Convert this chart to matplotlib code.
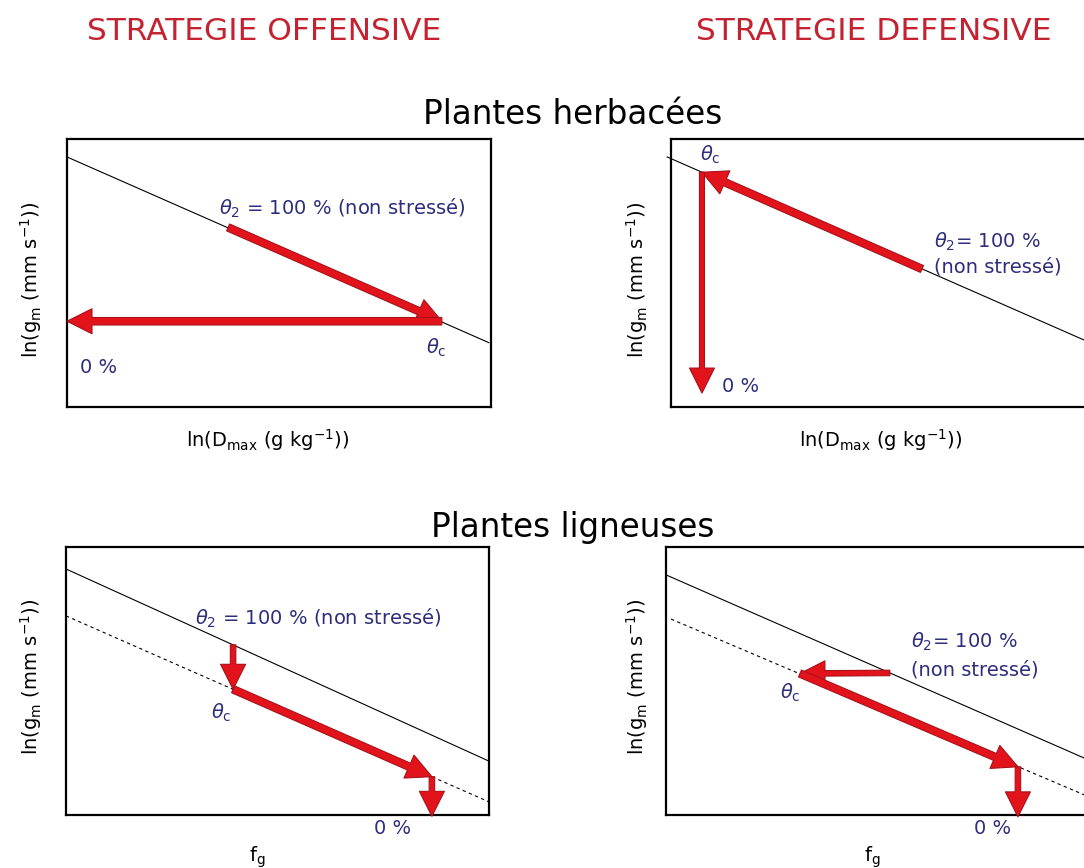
import matplotlib.pyplot as plt
from matplotlib.patches import FancyArrowPatch

plt.rcParams['font.family'] = ['DejaVu Sans']
plt.rcParams['mathtext.fontset'] = 'dejavusans'
plt.rcParams['mathtext.default'] = 'regular'

W, H = 1084, 868
RED = '#e2131b'
EDGE = '#a8121a'
BLUE = '#2d2d7c'
HEAD = '#c42230'

# --- donnees du schema (unites arbitraires 0-10) ---
herb_off_line_x = [0.0, 9.95]
herb_off_line_y = [9.33, 2.40]
herb_off_path_x = [3.80, 8.84, 0.0]
herb_off_path_y = [6.70, 3.20, 3.20]

herb_def_line_x = [-0.09, 10.0]
herb_def_line_y = [9.33, 2.32]
herb_def_path_x = [5.92, 0.73, 0.73]
herb_def_path_y = [5.15, 8.76, 0.52]

lig_off_line_x = [0.0, 10.0]
lig_off_line_y = [9.18, 2.01]
lig_off_dash_x = [0.0, 10.0]
lig_off_dash_y = [7.43, 0.49]
lig_off_path_x = [3.95, 3.95, 8.65, 8.65]
lig_off_path_y = [6.35, 4.69, 1.43, -0.05]

lig_def_line_x = [0.0, 10.0]
lig_def_line_y = [8.96, 2.03]
lig_def_dash_x = [0.12, 10.0]
lig_def_dash_y = [7.31, 0.66]
lig_def_path_x = [5.28, 3.16, 8.30, 8.30]
lig_def_path_y = [5.30, 5.28, 1.80, -0.07]


def px(x, y):
    return x / W, 1 - y / H


def make_ax(left, top, width=424, height=268):
    ax = fig.add_axes([left / W, 1 - (top + height) / H, width / W, height / H])
    ax.set_xlim(0, 10)
    ax.set_ylim(0, 10)
    ax.set_xticks([])
    ax.set_yticks([])
    for s in ax.spines.values():
        s.set_linewidth(1.6)
    return ax


def arrow(ax, p0, p1, tail=0.26, head=1.0):
    a = FancyArrowPatch(p0, p1,
                        arrowstyle='simple,head_length=%g,head_width=%g,tail_width=%g' % (head, head, tail),
                        mutation_scale=18, facecolor=RED, edgecolor=EDGE, lw=0.8,
                        shrinkA=0, shrinkB=0, clip_on=False, zorder=5)
    ax.add_patch(a)


def path_arrows(ax, xs, ys, tails):
    for i in range(len(xs) - 1):
        arrow(ax, (xs[i], ys[i]), (xs[i + 1], ys[i + 1]), tail=tails[i])


fig = plt.figure(figsize=(W / 100, H / 100), dpi=100)

# titres
fig.text(*px(264, 32), 'STRATEGIE OFFENSIVE', color=HEAD, fontsize=22.5, ha='center', va='center')
fig.text(*px(874, 32), 'STRATEGIE DEFENSIVE', color=HEAD, fontsize=22.5, ha='center', va='center')
fig.text(*px(573, 114), 'Plantes herbacées', fontsize=23.5, ha='center', va='center')
fig.text(*px(573, 527), 'Plantes ligneuses', fontsize=23.5, ha='center', va='center')

ylab = r'ln(g$_m$ (mm s$^{-1}$))'
xlab_h = r'ln(D$_{max}$ (g kg$^{-1}$))'
xlab_l = r'f$_g$'
t2_one = r'$\mathit{\theta}_2$ = 100 % (non stressé)'
t2_a = r'$\mathit{\theta}_2$= 100 %'
tc = r'$\mathit{\theta}_c$'
FS = 14

# --- herbacees, offensive ---
ax = make_ax(67, 139)
ax.plot(herb_off_line_x, herb_off_line_y, color='black', lw=0.8, clip_on=False)
path_arrows(ax, herb_off_path_x, herb_off_path_y, [0.3, 0.3])
ax.text(3.58, 7.43, t2_one, color=BLUE, fontsize=FS, va='center')
ax.text(8.70, 2.20, tc, color=BLUE, fontsize=FS, ha='center', va='center')
ax.text(0.31, 1.49, '0 %', color=BLUE, fontsize=FS, va='center')
fig.text(*px(268, 440), xlab_h, fontsize=FS, ha='center', va='center')
fig.text(*px(31, 280), ylab, fontsize=FS, ha='center', va='center', rotation=90)

# --- herbacees, defensive ---
ax = make_ax(671, 139)
ax.plot(herb_def_line_x, herb_def_line_y, color='black', lw=0.8, clip_on=False)
path_arrows(ax, herb_def_path_x, herb_def_path_y, [0.3, 0.2])
ax.text(6.20, 6.16, t2_a, color=BLUE, fontsize=FS, va='center')
ax.text(6.20, 5.22, '(non stressé)', color=BLUE, fontsize=FS, va='center')
ax.text(0.92, 9.40, tc, color=BLUE, fontsize=FS, ha='center', va='center')
ax.text(1.65, 0.75, '0 %', color=BLUE, fontsize=FS, ha='center', va='center')
fig.text(*px(881, 440), xlab_h, fontsize=FS, ha='center', va='center')
fig.text(*px(637, 280), ylab, fontsize=FS, ha='center', va='center', rotation=90)

# --- ligneuses, offensive ---
ax = make_ax(66, 547, width=423)
ax.plot(lig_off_line_x, lig_off_line_y, color='black', lw=0.8, clip_on=False)
ax.plot(lig_off_dash_x, lig_off_dash_y, color='black', lw=0.8, ls=(0, (3, 3)), clip_on=False)
path_arrows(ax, lig_off_path_x, lig_off_path_y, [0.22, 0.3, 0.22])
ax.text(3.05, 7.35, t2_one, color=BLUE, fontsize=FS, va='center')
ax.text(3.66, 3.81, tc, color=BLUE, fontsize=FS, ha='center', va='center')
ax.text(7.71, -0.49, '0 %', color=BLUE, fontsize=FS, ha='center', va='center')
fig.text(*px(257, 857), xlab_l, fontsize=FS, ha='center', va='center')
fig.text(*px(31, 677), ylab, fontsize=FS, ha='center', va='center', rotation=90)

# --- ligneuses, defensive ---
ax = make_ax(666, 547)
ax.plot(lig_def_line_x, lig_def_line_y, color='black', lw=0.8, clip_on=False)
ax.plot(lig_def_dash_x, lig_def_dash_y, color='black', lw=0.8, ls=(0, (3, 3)), clip_on=False)
path_arrows(ax, lig_def_path_x, lig_def_path_y, [0.22, 0.3, 0.22])
ax.text(5.78, 6.46, t2_a, color=BLUE, fontsize=FS, va='center')
ax.text(5.78, 5.41, '(non stressé)', color=BLUE, fontsize=FS, va='center')
ax.text(2.92, 4.55, tc, color=BLUE, fontsize=FS, ha='center', va='center')
ax.text(7.71, -0.49, '0 %', color=BLUE, fontsize=FS, ha='center', va='center')
fig.text(*px(872, 857), xlab_l, fontsize=FS, ha='center', va='center')
fig.text(*px(637, 677), ylab, fontsize=FS, ha='center', va='center', rotation=90)

fig.savefig('out.png', dpi=100)
